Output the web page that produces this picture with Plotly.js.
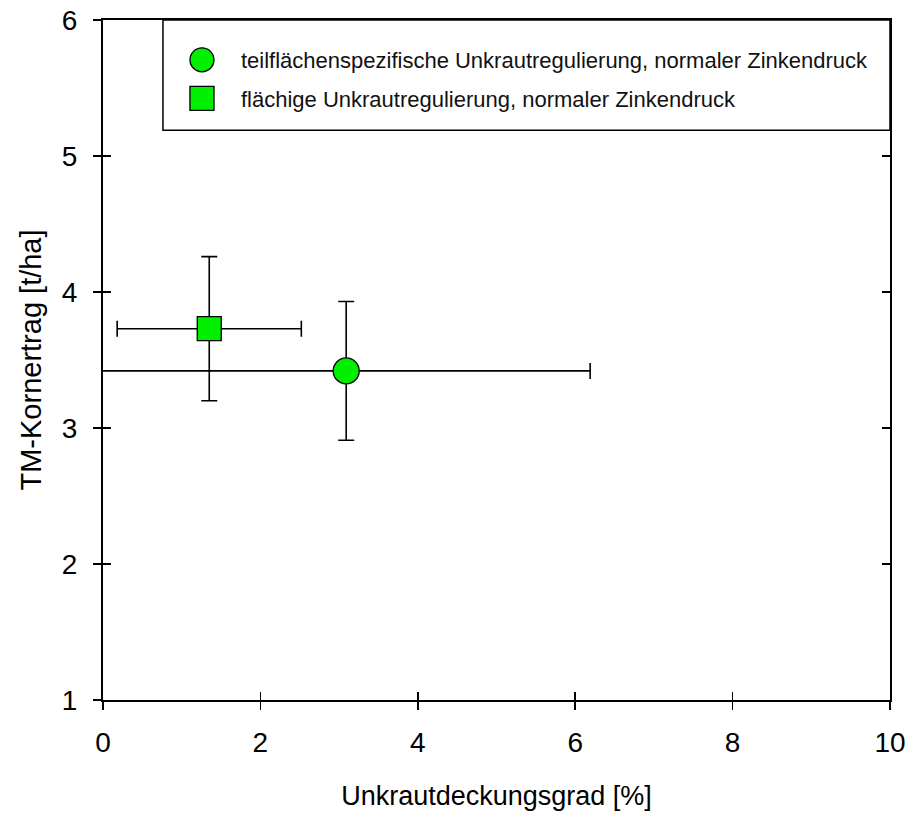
<!DOCTYPE html>
<html>
<head>
<meta charset="utf-8">
<script src="https://cdn.plot.ly/plotly-3.0.1.min.js"></script>
<style>html,body{margin:0;padding:0;background:#fff;}#chart{width:917px;height:822px;}</style>
</head>
<body>
<div id="chart"></div>
<script>
// Data
const seriesNames = [
  "teilflächenspezifische Unkrautregulierung, normaler Zinkendruck",
  "flächige Unkrautregulierung, normaler Zinkendruck"
];
const coverX = [3.09, 1.35];        // Unkrautdeckungsgrad [%]
const coverErr = [3.1, 1.17];       // +/- error on x
const yieldY = [3.42, 3.73];        // TM-Kornertrag [t/ha]
const yieldErr = [0.51, 0.53];      // +/- error on y
const symbols = ["circle", "square"];
const markerSizes = [26, 24];
const xTicks = [0, 2, 4, 6, 8, 10];
const yTicks = [1, 2, 3, 4, 5, 6];

const font = "Arial, 'Liberation Sans', sans-serif";

const traces = seriesNames.map((name, i) => ({
  type: "scatter",
  mode: "markers",
  name: name,
  legendgroup: "g" + i,
  x: [coverX[i]],
  y: [yieldY[i]],
  error_x: {type: "data", array: [coverErr[i]], color: "#000", thickness: 1.6, width: 8},
  error_y: {type: "data", array: [yieldErr[i]], color: "#000", thickness: 1.6, width: 8},
  marker: {symbol: symbols[i], size: markerSizes[i], color: "#00f000", line: {color: "#000", width: 1.3}}
}));

// dummy invisible trace to activate the overlay axes (inward ticks)
traces.push({type: "scatter", mode: "markers", x: [null], y: [null], xaxis: "x2", yaxis: "y2",
  showlegend: false, hoverinfo: "skip"});

const layout = {
  width: 917, height: 822,
  margin: {l: 103, r: 27, t: 20, b: 122},
  paper_bgcolor: "#fff", plot_bgcolor: "#fff",
  font: {family: font, color: "#000"},
  showlegend: true,
  legend: {
    x: 0.0762, y: 0.972, xanchor: "left", yanchor: "top",
    bgcolor: "rgba(0,0,0,0)", borderwidth: 0,
    font: {family: font, size: 22, color: "#111"},
    itemwidth: 68, tracegroupgap: 7
  },
  shapes: [{
    type: "rect", xref: "paper", yref: "paper", layer: "above",
    x0: 0.0762, x1: 1, y0: 0.838, y1: 1,
    fillcolor: "#fff", line: {color: "#000", width: 1.5}
  }],
  xaxis: {
    range: [0, 10], tickvals: xTicks, ticktext: xTicks.map(String),
    ticks: "outside", ticklen: 8, tickwidth: 1.5, tickcolor: "#000",
    ticklabelstandoff: 8,
    showline: true, linecolor: "#000", linewidth: 2, mirror: true,
    showgrid: false, zeroline: false,
    tickfont: {family: font, size: 28},
    title: {text: "Unkrautdeckungsgrad [%]", font: {family: font, size: 27}, standoff: 30}
  },
  yaxis: {
    range: [1, 6], tickvals: yTicks, ticktext: yTicks.map(String),
    ticks: "outside", ticklen: 8, tickwidth: 1.5, tickcolor: "#000",
    ticklabelstandoff: 10,
    showline: true, linecolor: "#000", linewidth: 2, mirror: true,
    showgrid: false, zeroline: false,
    tickfont: {family: font, size: 28},
    title: {text: "TM-Kornertrag [t/ha]", font: {family: font, size: 29}, standoff: 12}
  },
  xaxis2: {
    overlaying: "x", range: [0, 10], tickvals: xTicks,
    ticks: "inside", ticklen: 8, tickwidth: 1.5, tickcolor: "#000",
    showticklabels: false, showline: false, showgrid: false, zeroline: false
  },
  yaxis2: {
    overlaying: "y", range: [1, 6], tickvals: yTicks,
    ticks: "inside", ticklen: 8, tickwidth: 1.5, tickcolor: "#000", mirror: "ticks",
    showticklabels: false, showline: false, showgrid: false, zeroline: false
  }
};

Plotly.newPlot("chart", traces, layout, {displayModeBar: false, staticPlot: true}).then(gd => {
  // enlarge legend symbols to match the reference
  gd.querySelectorAll(".legend .legendpoints path").forEach(p => {
    const t = p.getAttribute("transform") || "";
    p.setAttribute("transform", t + " scale(1.5)");
    p.style.strokeWidth = "0.9px";
  });
});
</script>
</body>
</html>
